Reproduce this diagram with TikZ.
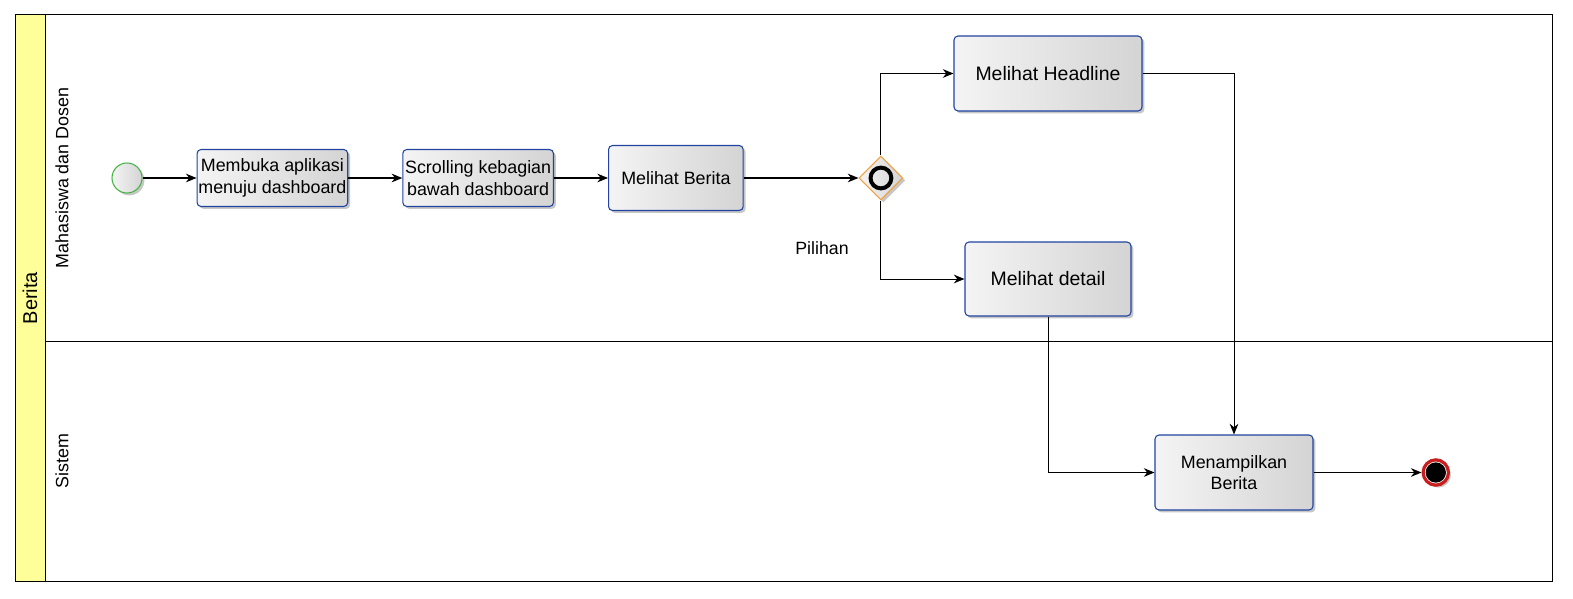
\documentclass[tikz,border=0pt]{standalone}
\usepackage{fontspec}
\setmainfont{Liberation Sans}
\usetikzlibrary{arrows.meta,positioning,shapes.geometric,shadows}
\definecolor{bredge}{RGB}{32,68,160}
\definecolor{brlite}{RGB}{244,244,244}
\definecolor{brdark}{RGB}{212,212,212}
\definecolor{brstart}{RGB}{70,180,70}
\definecolor{brend}{RGB}{200,30,30}
\definecolor{brgate}{RGB}{240,160,60}
\definecolor{brpool}{RGB}{255,255,153}
\tikzset{
  brshadow/.style={drop shadow={shadow xshift=1.8pt, shadow yshift=-1.8pt, opacity=0.22, fill=black}},
  task/.style={
    draw=bredge, line width=0.8pt, rounded corners=3pt, align=center,
    left color=brlite, right color=brdark, brshadow, inner sep=1pt,
    font=\fontsize{13.4}{16}\selectfont
  },
  bigtask/.style={task, font=\fontsize{14.6}{17}\selectfont},
  evstart/.style={circle, draw=brstart, line width=0.8pt, minimum size=22.5pt,
    inner sep=0pt, left color=brlite, right color=brdark, brshadow},
  evend/.style={circle, draw=brend, line width=2.4pt, minimum size=19pt,
    inner sep=0pt, fill=white, brshadow},
  gate/.style={diamond, aspect=1, draw=brgate, line width=0.8pt, minimum size=33pt,
    inner sep=0pt, left color=brlite, right color=brdark, brshadow},
  flow/.style={-{Stealth[length=8pt,width=6.5pt]}, draw=black, line width=0.75pt},
  lanelbl/.style={rotate=90, font=\fontsize{13.4}{16}\selectfont},
  lbl/.style={font=\fontsize{13.3}{16}\selectfont}
}
\begin{document}
\begin{tikzpicture}[x=0.75pt, y=-0.75pt, node distance=40.5pt]
  \useasboundingbox (0,0) rectangle (1573,599);
  % pool and lanes
  \fill[brpool] (15,15) rectangle (45,581);
  \draw[line width=0.75pt] (15,15) rectangle (1552,581);
  \draw[line width=0.75pt] (45,15) -- (45,581);
  \draw[line width=0.75pt] (45,341) -- (1552,341);
  \node[rotate=90, font=\fontsize{15}{18}\selectfont] (pool) at (30,298) {Berita};
  \node[lanelbl] (lane1) at (62,178) {Mahasiswa dan Dosen};
  \node[lanelbl] (lane2) at (62,461) {Sistem};

  % upper lane
  \node[evstart] (s) at (127,178) {};
  \node[task, minimum width=113pt, minimum height=42.75pt, right=of s] (t1) {Membuka aplikasi\\menuju dashboard};
  \node[task, minimum width=113pt, minimum height=42.75pt, right=of t1] (t2) {Scrolling kebagian\\bawah dashboard};
  \node[task, minimum width=101pt, minimum height=48.75pt, right=of t2] (t3) {Melihat Berita};
  \node[gate, right=86pt of t3] (g) {};
  \draw[line width=3pt] (g.center) circle (7.8pt);
  \node[lbl] (pil) at (822,248) {Pilihan};
  \node[bigtask, minimum width=141pt, minimum height=56.25pt] (hl) at (1048,73.5) {Melihat Headline};
  \node[bigtask, minimum width=124.5pt, minimum height=55.5pt] (dt) at (1048,279) {Melihat detail};

  % lower lane
  \node[task, minimum width=118.5pt, minimum height=56.25pt] (mp) at (1234,472.5) {Menampilkan\\Berita};
  \node[evend, right=81pt of mp] (e) {};
  \fill (e.center) circle (7.6pt);

  % flows
  \draw[flow] (s) -- (t1);
  \draw[flow] (t1) -- (t2);
  \draw[flow] (t2) -- (t3);
  \draw[flow] (t3) -- (g);
  \draw[flow] (g.north) |- (hl.west);
  \draw[flow] (g.south) |- (dt.west);
  \draw[flow] (hl.east) -| (mp.north);
  \draw[flow] (dt.south) |- (mp.west);
  \draw[flow] (mp) -- (e);
\end{tikzpicture}
\end{document}
